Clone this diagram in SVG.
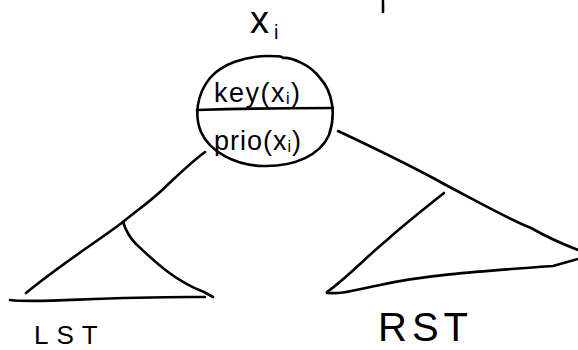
<svg xmlns="http://www.w3.org/2000/svg" width="578" height="350" viewBox="0 0 578 350">
<style>
.ink{fill:none;stroke:#000;stroke-width:2.6;stroke-linecap:round;stroke-linejoin:round}
.lbl{font-family:"Liberation Sans",Arial,sans-serif;fill:#000}
</style>
<rect width="578" height="350" fill="#fff"/>
<path class="ink" d="M383 1 L383 12"/>
<g id="node-xi">
<text class="lbl" x="250" y="33" font-size="38">x<tspan font-size="20" dx="5" dy="6">i</tspan></text>
<path class="ink" d="M283 58 C290 57 310 64 320 78 C333 92 336 115 329 135 C320 155 295 167 262 166 C235 165 210 152 201 132 C194 115 197 94 210 78 C222 64 245 56 268 56 C276 56 282 56 283 58"/>
<path class="ink" d="M197 110 C230 109 290 108 333 108"/>
<text class="lbl" x="214" y="102" font-size="27" letter-spacing="1.5">key(x<tspan font-size="16" dy="2">i</tspan><tspan dy="-2">)</tspan></text>
<text class="lbl" x="214" y="150" font-size="27" letter-spacing="1">prio(x<tspan font-size="16" dy="2">i</tspan><tspan dy="-2">)</tspan></text>
</g>
<g id="connectors">
<path class="ink" d="M205 152 C190 163 175 178 160 192 C148 203 135 212 123 222"/>
<path class="ink" d="M338 131 C370 146 405 163 435 179 L444 184"/>
</g>
<g id="node-LST">
<path class="ink" d="M123 222 C95 243 60 265 26 293"/>
<path class="ink" d="M123 222 C126 231 129 237 136 244 C155 262 175 281 204 292 L213 297"/>
<path class="ink" d="M10 300 C40 304 100 296 205 297"/>
<text class="lbl" x="34" y="344" font-size="26" letter-spacing="8">LST</text>
</g>
<g id="node-RST">
<path class="ink" d="M444 184 C480 203 510 220 531 228 C545 236 560 243 578 250"/>
<path class="ink" d="M444 193 C420 212 400 228 387 240 C365 258 348 277 327 292"/>
<path class="ink" d="M327 293 C345 294 355 290 380 285 C420 276 468 272 553 266 L578 259"/>
<text class="lbl" x="378" y="341" font-size="40" letter-spacing="5">RST</text>
</g>
</svg>
